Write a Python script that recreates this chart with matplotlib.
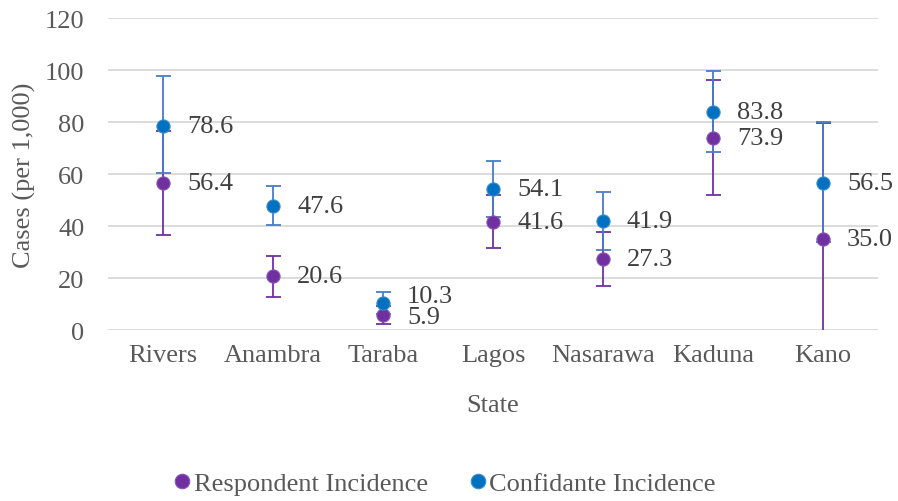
import matplotlib.pyplot as plt
import numpy as np

FONT = 'Liberation Serif'
plt.rcParams['font.family'] = [FONT, 'DejaVu Serif']

states = ['Rivers', 'Anambra', 'Taraba', 'Lagos', 'Nasarawa', 'Kaduna', 'Kano']

# incidence per 1,000 with confidence bounds
respondent = [56.4, 20.6, 5.9, 41.6, 27.3, 73.9, 35.0]
respondent_low = [36.7, 12.8, 2.5, 31.7, 17.0, 51.9, -10.0]
respondent_high = [76.4, 28.6, 9.3, 51.9, 37.7, 96.3, 79.8]

confidante = [78.6, 47.6, 10.3, 54.1, 41.9, 83.8, 56.5]
confidante_low = [60.5, 40.4, 6.2, 43.6, 30.9, 68.3, 34.0]
confidante_high = [97.6, 55.4, 14.7, 65.1, 53.1, 99.7, 80.1]

PURPLE = '#7030A0'
BLUE = '#0070C0'
BLUE_ERR = '#4A7CC8'
GREY = '#595959'

fig = plt.figure(figsize=(8.98, 5.02), dpi=100)
ax = fig.add_axes([0.1203, 0.3406, 0.8574, 0.6215])

x = np.arange(len(states))
resp = np.array(respondent)
conf = np.array(confidante)
resp_err = [resp - np.array(respondent_low), np.array(respondent_high) - resp]
conf_err = [conf - np.array(confidante_low), np.array(confidante_high) - conf]

ax.errorbar(x, resp, yerr=resp_err, fmt='none', ecolor=PURPLE, elinewidth=1.3,
            capsize=5.4, capthick=1.3, zorder=3)
ax.errorbar(x, conf, yerr=conf_err, fmt='none', ecolor=BLUE_ERR, elinewidth=1.3,
            capsize=5.4, capthick=1.3, zorder=3)
ax.plot(x, resp, 'o', color=PURPLE, markersize=9.5, markeredgecolor='#8A55B5',
        markeredgewidth=0.8, zorder=4, label='Respondent Incidence')
ax.plot(x, conf, 'o', color=BLUE, markersize=9.5, markeredgecolor='#3D8ED0',
        markeredgewidth=0.8, zorder=4, label='Confidante Incidence')

# data labels (Taraba labels nudged apart like in the original)
conf_dy = [0, 0, 7, 0, 0, 0, 0]
resp_dy = [0, 0, -2, 0, 0, 0, 0]
for i in range(len(states)):
    ax.annotate(f'{confidante[i]:.1f}', (x[i], conf[i]), xytext=(24, conf_dy[i]),
                textcoords='offset pixels', va='center', ha='left',
                fontsize=19, color='#404040', family=FONT, zorder=5)
    ax.annotate(f'{respondent[i]:.1f}', (x[i], resp[i]), xytext=(24, resp_dy[i]),
                textcoords='offset pixels', va='center', ha='left',
                fontsize=19, color='#404040', family=FONT, zorder=5)

ax.set_xlim(-0.5, len(states) - 0.5)
ax.set_ylim(0, 120)
ax.set_yticks(range(0, 121, 20))
ax.set_xticks(x)
ax.set_xticklabels(states)
ax.tick_params(axis='both', length=0, labelsize=19, labelcolor=GREY)
ax.tick_params(axis='y', pad=17)
ax.tick_params(axis='x', pad=10)
for lbl in ax.get_xticklabels() + ax.get_yticklabels():
    lbl.set_fontfamily(FONT)
ax.grid(axis='y', color='#D9D9D9', linewidth=1.3)
ax.set_axisbelow(True)
for s in ax.spines.values():
    s.set_visible(False)

ax.set_xlabel('State', fontsize=19, color=GREY, labelpad=20, family=FONT)
ax.set_ylabel('Cases (per 1,000)', fontsize=19, color=GREY, labelpad=6, family=FONT)

fig.legend(loc='lower center', ncol=2, frameon=False,
           prop={'family': FONT, 'size': 19},
           bbox_to_anchor=(0.4955, -0.035), handlelength=0.6, handletextpad=0.12,
           columnspacing=1.6, markerscale=1.1, labelcolor=GREY)

fig.savefig('out.png', dpi=100)
